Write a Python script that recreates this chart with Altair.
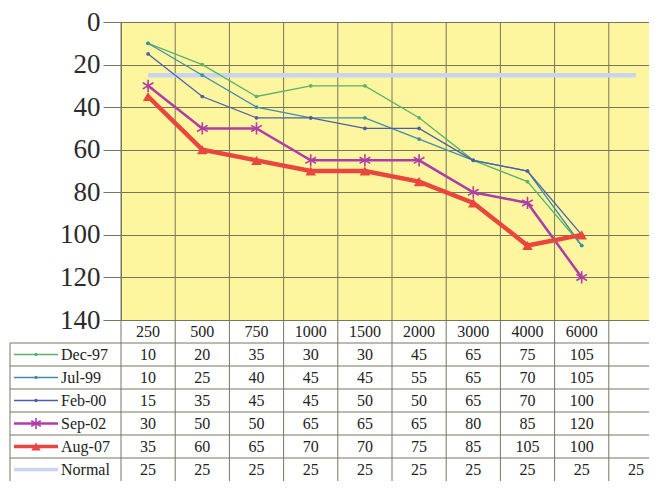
import altair as alt
import pandas as pd

# ---- data ----
freqs = ["250", "500", "750", "1000", "1500", "2000", "3000", "4000", "6000", ""]
series_names = ["Dec-97", "Jul-99", "Feb-00", "Sep-02", "Aug-07", "Normal"]
dec97 = [10, 20, 35, 30, 30, 45, 65, 75, 105]
jul99 = [10, 25, 40, 45, 45, 55, 65, 70, 105]
feb00 = [15, 35, 45, 45, 50, 50, 65, 70, 100]
sep02 = [30, 50, 50, 65, 65, 65, 80, 85, 120]
aug07 = [35, 60, 65, 70, 70, 75, 85, 105, 100]
normal = [25, 25, 25, 25, 25, 25, 25, 25, 25, 25]
values = [dec97, jul99, feb00, sep02, aug07, normal]
y_ticks = [0, 20, 40, 60, 80, 100, 120, 140]

# ---- styles ----
colors = ["#5cb06e", "#3f8ea6", "#4e5ea6", "#b03ca8", "#e8463e", "#c9d3f2"]
widths = [1.3, 1.3, 1.3, 2.5, 4.5, 4.5]
shapes = ["circle", "circle", "circle",
          "M0,-1L0,1M-0.87,-0.5L0.87,0.5M-0.87,0.5L0.87,-0.5",
          "triangle-up", None]
msizes = [14, 14, 14, 150, 110, 0]

W, H = 528, 298
ROW = 23
NROWS = 7
TABLE_H = ROW * NROWS
GRID = "#76765e"
FONT = "Liberation Serif, Times New Roman, serif"

rows = []
for i, (s, vals) in enumerate(zip(series_names, values)):
    for f, v in zip(freqs, vals):
        rows.append({"series": s, "freq": f, "value": v, "row": i + 1.5})
df = pd.DataFrame(rows)

xscale = alt.Scale(type="band", domain=freqs, range=[0, 542], paddingInner=0, paddingOuter=0)
yscale = alt.Scale(domain=[0, 140], reverse=True, nice=False, zero=False)
tscale = alt.Scale(domain=[0, NROWS], range=[H, H + TABLE_H], nice=False, zero=False)

layers = []

# vertical grid lines through plot and table
vr = pd.DataFrame({"freq": freqs})
layers.append(
    alt.Chart(vr).mark_rule(color=GRID, strokeWidth=1).encode(
        x=alt.X("freq:N", bandPosition=0, scale=xscale, axis=None),
        y=alt.value(0), y2=alt.value(H + TABLE_H)))

# table horizontal lines
hl = pd.DataFrame({"b": [1, 2, 3, 4, 5, 6]})
layers.append(
    alt.Chart(hl).mark_rule(color=GRID, strokeWidth=1).encode(
        y=alt.Y("b:Q", scale=tscale, axis=None),
        x=alt.value(-111), x2=alt.value(W)))
lb = pd.DataFrame({"a": [1], "b": [NROWS]})
layers.append(
    alt.Chart(lb).mark_rule(color=GRID, strokeWidth=1).encode(
        y=alt.Y("a:Q", scale=tscale, axis=None), y2="b:Q",
        x=alt.value(-111)))

# series lines (Normal first so it lies underneath)
order = [5, 0, 1, 2, 3, 4]
first = True
for i in order:
    s = series_names[i]
    sub = df[df.series == s]
    if first:
        yax = alt.Axis(values=y_ticks, grid=True, gridColor=GRID, gridWidth=1,
                       tickColor=GRID, tickSize=18, tickWidth=1, domain=False,
                       labelFont=FONT, labelFontSize=27, labelColor="#2b2b2b",
                       labelPadding=3, title=None)
        first = False
    else:
        yax = None
    base = alt.Chart(sub).encode(
        x=alt.X("freq:N", scale=xscale, axis=None),
        y=alt.Y("value:Q", scale=yscale, axis=yax))
    layers.append(base.mark_line(color=colors[i], strokeWidth=widths[i]))
    if shapes[i] is not None:
        filled = i != 3
        pt = base.mark_point(shape=shapes[i], size=msizes[i], filled=filled,
                             color=colors[i], opacity=1,
                             strokeWidth=1.6 if not filled else 1)
        layers.append(pt)

# header row (frequencies)
hdr = pd.DataFrame({"freq": freqs, "row": [0.5] * len(freqs)})
layers.append(
    alt.Chart(hdr).mark_text(font=FONT, fontSize=16, color="#222222").encode(
        x=alt.X("freq:N", scale=xscale, axis=None),
        y=alt.Y("row:Q", scale=tscale, axis=None),
        text="freq:N"))

# table values
layers.append(
    alt.Chart(df).mark_text(font=FONT, fontSize=16, color="#222222").encode(
        x=alt.X("freq:N", scale=xscale, axis=None),
        y=alt.Y("row:Q", scale=tscale, axis=None),
        text="value:Q"))

# legend column in the table
for i, s in enumerate(series_names):
    ld = pd.DataFrame({"series": [s], "row": [i + 1.5]})
    b = alt.Chart(ld).encode(y=alt.Y("row:Q", scale=tscale, axis=None))
    layers.append(b.mark_rule(color=colors[i], strokeWidth=min(widths[i], 3.5)).encode(
        x=alt.value(-107), x2=alt.value(-63)))
    if shapes[i] is not None:
        filled = i != 3
        layers.append(b.mark_point(shape=shapes[i], size=msizes[i] * 0.8, filled=filled,
                                   color=colors[i], opacity=1,
                                   strokeWidth=1.6 if not filled else 1).encode(
            x=alt.value(-85)))
    layers.append(b.mark_text(font=FONT, fontSize=16, color="#222222", align="left").encode(
        x=alt.value(-60), text="series:N"))

chart = alt.layer(*layers).resolve_scale(y="independent").properties(
    width=W, height=H,
    autosize=alt.AutoSizeParams(type="none"),
    padding={"left": 113, "top": 14, "right": 0, "bottom": TABLE_H + 1},
    background="white",
).configure_view(fill="#fdf69f", stroke=GRID, strokeWidth=1)

chart.save("out.html", embed_options={"renderer": "svg", "actions": False})
